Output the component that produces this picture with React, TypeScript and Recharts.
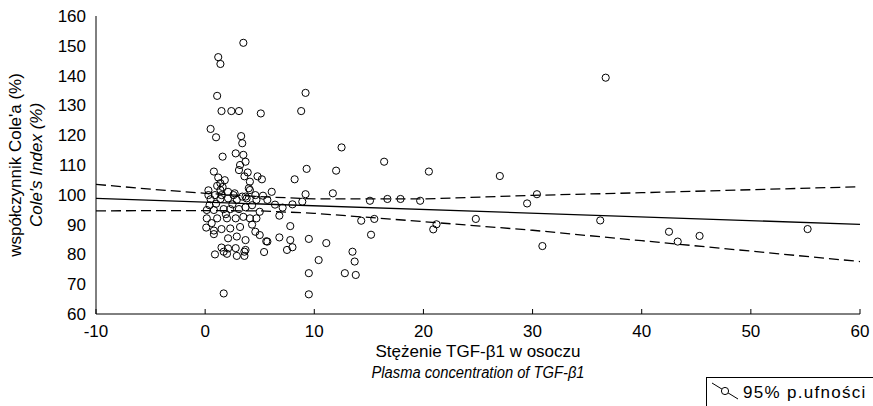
import React from 'react';
import { ScatterChart, Scatter, XAxis, YAxis, Customized } from 'recharts';

const pointsX = [
  3.5, 1.2, 1.4, 1.1, 9.2, 8.8, 1.5, 2.4, 3.1, 5.1,
  0.5, 1.0, 3.3, 3.4, 1.6, 2.8, 3.5, 12.5, 16.4, 3.2,
  3.7, 9.3, 12.0, 20.5, 27.0, 0.8, 3.1, 3.9, 3.6, 4.8,
  5.2, 8.2, 1.2, 1.8, 1.4, 1.1, 1.6, 4.1, 4.0, 2.7,
  2.1, 6.1, 5.3, 9.2, 11.7, 1.4, 4.1, 3.7, 1.5, 0.9,
  0.3, 4.6, 2.6, 0.5, 1.4, 2.1, 2.9, 3.8, 4.7, 5.7,
  0.15, 0.8, 1.7, 2.3, 3.1, 3.7, 0.15, 1.1, 2.0, 2.8,
  3.5, 4.1, 4.7, 0.1, 0.8, 1.5, 2.3, 3.2, 0.8, 2.1,
  2.9, 3.7, 4.6, 5.0, 5.7, 1.5, 2.1, 2.8, 3.7, 0.9,
  2.0, 2.9, 1.7, 3.6, 3.6, 5.4, 1.7, 6.4, 7.1, 8.0,
  8.9, 6.8, 7.8, 5.6, 6.8, 7.8, 8.0, 7.5, 9.5, 11.1,
  10.4, 9.5, 12.8, 9.5, 15.1, 16.7, 17.9, 19.7, 14.3, 15.5,
  15.2, 21.2, 20.9, 24.8, 13.5, 13.7, 13.8, 36.7, 30.4, 29.5,
  30.9, 36.2, 42.5, 43.3, 45.3, 55.2, 1.0, 2.5, 4.3, 0.4,
  5.0, 1.9, 0.6, 4.3, 3.4, 0.3,
];
const pointsY = [
  151.0, 146.2, 143.9, 133.2, 134.2, 128.1, 128.1, 128.1, 128.1, 127.3,
  122.1, 119.3, 119.7, 117.3, 112.8, 113.9, 113.4, 115.9, 111.1, 110.0,
  111.1, 108.7, 108.1, 107.8, 106.3, 107.8, 108.3, 107.5, 106.2, 106.2,
  105.2, 105.2, 105.8, 104.9, 103.9, 103.0, 102.6, 104.4, 102.2, 100.5,
  101.0, 101.0, 99.7, 100.2, 100.5, 101.6, 101.6, 99.4, 99.9, 99.9,
  99.9, 99.9, 99.9, 98.5, 98.6, 98.8, 98.3, 98.8, 98.3, 98.3,
  94.9, 94.9, 95.2, 95.2, 95.2, 95.8, 92.1, 92.1, 92.1, 92.1,
  92.6, 92.1, 92.1, 89.0, 88.0, 88.5, 88.7, 89.2, 86.8, 85.4,
  86.0, 84.8, 87.6, 86.5, 84.3, 82.3, 82.0, 82.1, 81.5, 80.0,
  80.2, 79.5, 80.9, 79.5, 80.9, 80.8, 66.9, 96.7, 95.7, 96.8,
  97.7, 93.0, 89.5, 84.4, 85.7, 84.8, 82.4, 81.5, 85.2, 83.8,
  78.1, 73.7, 73.7, 66.6, 98.0, 98.6, 98.6, 98.0, 91.3, 91.9,
  86.6, 90.1, 88.4, 91.9, 80.9, 77.6, 73.1, 139.3, 100.2, 97.1,
  82.8, 91.4, 87.6, 84.3, 86.2, 88.5, 97.0, 96.8, 96.5, 96.5,
  94.3, 93.5, 90.5, 90.0, 99.4, 101.5,
];

const regX = [-10, 60];
const regY = [98.8, 90.1];

const bandX = [-10, -5, 0, 5, 10, 20, 30, 40, 50, 60];
const bandUpper = [103.5, 101.9, 100.5, 99.4, 98.6, 98.6, 99.8, 100.7, 101.7, 102.7];
const bandLower = [94.6, 94.7, 94.7, 94.6, 93.8, 91.0, 88.1, 84.6, 81.1, 77.6];

const xTicks = [-10, 0, 10, 20, 30, 40, 50, 60];
const yTicks = [60, 70, 80, 90, 100, 110, 120, 130, 140, 150, 160];

const xTitle1 = 'Stężenie TGF-β1 w osoczu';
const xTitle2 = 'Plasma concentration of TGF-β1';
const yTitle1 = "współczynnik Cole'a (%)";
const yTitle2a = "Cole's ";
const yTitle2b = 'Index';
const yTitle2c = ' (%)';
const legendText = '95% p.ufności';

const FONT = '"Liberation Sans", Arial, sans-serif';

const scatterData = pointsX.map((x, i) => ({ x, y: pointsY[i] }));
const regData = regX.map((x, i) => ({ x, y: regY[i] }));
const upperData = bandX.map((x, i) => ({ x, y: bandUpper[i] }));
const lowerData = bandX.map((x, i) => ({ x, y: bandLower[i] }));

const Dot = (props: any) => (
  <circle cx={props.cx} cy={props.cy} r={3.6} fill="none" stroke="#000" strokeWidth={1} />
);
const NoShape = () => <g />;

const BottomTick = (props: any) => {
  const { x, y, payload } = props;
  return (
    <g>
      <line x1={x} x2={x} y1={y} y2={y - 5} stroke="#000" strokeWidth={1} />
      <text x={x} y={y + 23} textAnchor="middle" fontFamily={FONT} fontSize={17} fill="#000">
        {payload.value}
      </text>
    </g>
  );
};
const TopTick = (props: any) => {
  const { x, y } = props;
  return <line x1={x} x2={x} y1={y} y2={y + 5} stroke="#000" strokeWidth={1} />;
};
const LeftTick = (props: any) => {
  const { x, y, payload } = props;
  return (
    <text x={x - 10} y={y + 6} textAnchor="end" fontFamily={FONT} fontSize={17} fill="#000">
      {payload.value}
    </text>
  );
};
const RightTick = (props: any) => {
  const { x, y } = props;
  return <line x1={x} x2={x - 5} y1={y} y2={y} stroke="#000" strokeWidth={1} />;
};

const XTitle = (props: any) => {
  const vb = props.viewBox || { x: 96, y: 314, width: 764, height: 92 };
  const cx = vb.x + vb.width / 2;
  return (
    <g>
      <text x={cx} y={vb.y + 43} textAnchor="middle" fontFamily={FONT} fontSize={17} fill="#000">
        {xTitle1}
      </text>
      <text
        x={cx}
        y={vb.y + 64}
        textAnchor="middle"
        fontFamily={FONT}
        fontSize={16}
        fontStyle="italic"
        fill="#000"
        textLength={213}
        lengthAdjust="spacingAndGlyphs"
      >
        {xTitle2}
      </text>
    </g>
  );
};
const YTitle = () => {
  const cy = 165;
  return (
    <g>
      <text x={21} y={cy} transform={`rotate(-90 21 ${cy})`} textAnchor="middle" fontFamily={FONT} fontSize={17} fill="#000">
        {yTitle1}
      </text>
      <text x={42} y={cy} transform={`rotate(-90 42 ${cy})`} textAnchor="middle" fontFamily={FONT} fontSize={17} fontStyle="italic" fill="#000">
        <tspan>{yTitle2a}</tspan>
        <tspan>{yTitle2b}</tspan>
        <tspan>{yTitle2c}</tspan>
      </text>
    </g>
  );
};

const LegendBox = () => (
  <g>
    <rect x={706.5} y={377.5} width={220} height={60} fill="#fff" stroke="#000" strokeWidth={1} />
    <polyline points="712,383 725,391 738,399" fill="none" stroke="#000" strokeWidth={1} />
    <circle cx={725} cy={391} r={3.6} fill="#fff" stroke="#000" strokeWidth={1} />
    <text x={743} y={398} fontFamily={FONT} fontSize={17} letterSpacing={1.3} fill="#000">{legendText}</text>
  </g>
);

export default function App() {
  return (
    <div style={{ position: 'absolute', left: 0, top: 0, width: 873, height: 406, background: '#fff', overflow: 'hidden' }}>
      <ScatterChart width={873} height={406} margin={{ top: 16, right: 13, bottom: 0, left: 0 }}>
        <XAxis
          xAxisId="b"
          dataKey="x"
          type="number"
          domain={[-10, 60]}
          allowDataOverflow
          ticks={xTicks}
          interval={0}
          height={92}
          tickSize={0}
          tickMargin={0}
          tickLine={false}
          stroke="#000"
          tick={<BottomTick />}
          label={<XTitle />}
        />
        <XAxis
          xAxisId="t"
          orientation="top"
          dataKey="x"
          type="number"
          domain={[-10, 60]}
          allowDataOverflow
          ticks={xTicks}
          interval={0}
          height={0}
          tickSize={0}
          tickMargin={0}
          tickLine={false}
          stroke="#000"
          tick={<TopTick />}
        />
        <YAxis
          yAxisId="l"
          dataKey="y"
          type="number"
          domain={[60, 160]}
          allowDataOverflow
          ticks={yTicks}
          interval={0}
          width={96}
          tickSize={0}
          tickMargin={0}
          tickLine={false}
          stroke="#000"
          tick={<LeftTick />}
          label={<YTitle />}
        />
        <YAxis
          yAxisId="r"
          orientation="right"
          dataKey="y"
          type="number"
          domain={[60, 160]}
          allowDataOverflow
          ticks={yTicks}
          interval={0}
          width={0}
          tickSize={0}
          tickMargin={0}
          tickLine={false}
          stroke="#000"
          tick={<RightTick />}
        />
        <Scatter
          xAxisId="b"
          yAxisId="l"
          data={upperData}
          shape={<NoShape />}
          line={{ stroke: '#000', strokeWidth: 1.3, strokeDasharray: '10 5' }}
          isAnimationActive={false}
        />
        <Scatter
          xAxisId="b"
          yAxisId="l"
          data={lowerData}
          shape={<NoShape />}
          line={{ stroke: '#000', strokeWidth: 1.3, strokeDasharray: '10 5' }}
          isAnimationActive={false}
        />
        <Scatter
          xAxisId="b"
          yAxisId="l"
          data={regData}
          shape={<NoShape />}
          line={{ stroke: '#000', strokeWidth: 1.3 }}
          isAnimationActive={false}
        />
        <Scatter
          xAxisId="b"
          yAxisId="l"
          data={scatterData}
          shape={<Dot />}
          isAnimationActive={false}
        />
        <Customized component={<LegendBox />} />
      </ScatterChart>
    </div>
  );
}
